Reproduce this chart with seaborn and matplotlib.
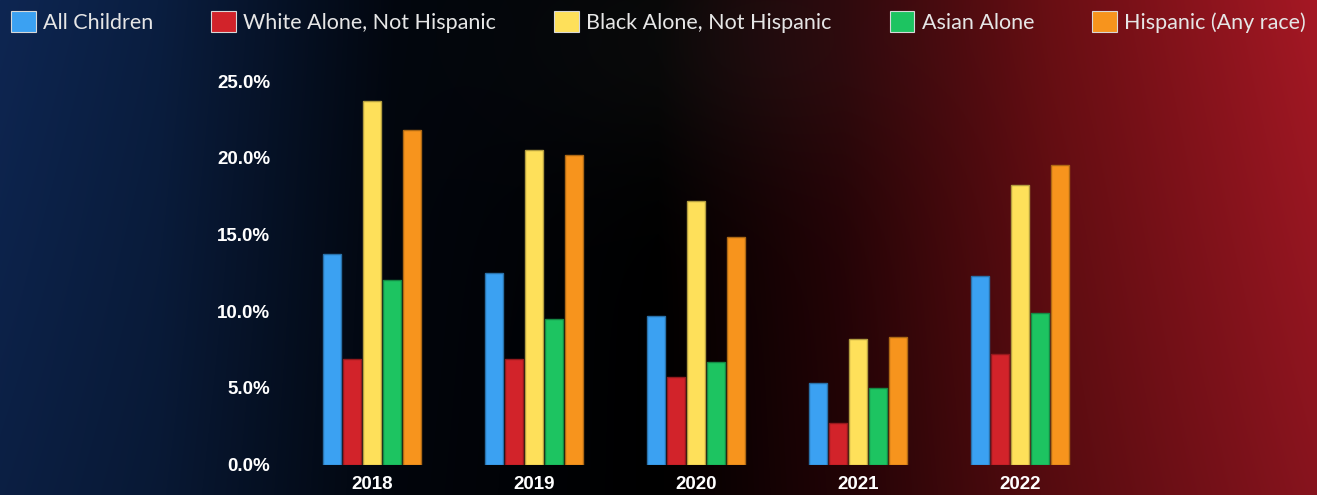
import numpy as np
import pandas as pd
import matplotlib
matplotlib.use("Agg")
import matplotlib.pyplot as plt
import matplotlib.colors as mcolors
import seaborn as sns

# ---- data ----
years = ["2018", "2019", "2020", "2021", "2022"]
groups = ["All Children", "White Alone, Not Hispanic", "Black Alone, Not Hispanic",
          "Asian Alone", "Hispanic (Any race)"]
all_children = [13.7, 12.5, 9.7, 5.3, 12.3]
white_nh = [6.9, 6.9, 5.7, 2.7, 7.2]
black_nh = [23.7, 20.5, 17.2, 8.2, 18.2]
asian = [12.0, 9.5, 6.7, 5.0, 9.9]
hispanic = [21.8, 20.2, 14.8, 8.3, 19.5]
yticks = [0, 5, 10, 15, 20, 25]

colors = ["#3ba1f2", "#d2232a", "#fee05a", "#1dc461", "#f7941d"]

series = [all_children, white_nh, black_nh, asian, hispanic]
rows = []
for g, vals in zip(groups, series):
    for y, v in zip(years, vals):
        rows.append({"Year": y, "Group": g, "Rate": v})
df = pd.DataFrame(rows)

# ---- figure ----
W, H = 1317, 495
fig = plt.figure(figsize=(W / 100, H / 100), dpi=100)

# background gradient
xs = np.linspace(0, 1, W)
ys = np.linspace(0, 1, H)
stops = [0.0, 0.12, 0.3, 0.5, 0.64, 0.8, 1.0]
cols = np.array([(14, 38, 82), (10, 30, 64), (2, 6, 14), (0, 0, 0),
                 (40, 4, 7), (105, 14, 19), (165, 24, 36)], float)
row = np.stack([np.interp(xs, stops, cols[:, c]) for c in range(3)], axis=-1)
vert = 1.0 - 0.18 * ys[:, None, None]
img = row[None, :, :] * vert
# faint gray shape at top centre
X, Y = np.meshgrid(np.arange(W), np.arange(H))
blob = np.exp(-(((X - 720) / 200.0) ** 2 + ((Y - 40) / 130.0) ** 2))
img = img + 10 * blob[..., None]
img = np.clip(img, 0, 255) / 255.0
bg = fig.add_axes([0, 0, 1, 1])
bg.imshow(img, aspect="auto", interpolation="bilinear")
bg.axis("off")

sns.set_style("ticks")
plt.rcParams["font.family"] = ["Liberation Sans", "DejaVu Sans"]

ax = fig.add_axes([291 / W, 30.5 / H, 810 / W, 383.5 / H])
ax.set_facecolor("none")
sns.barplot(data=df, x="Year", y="Rate", hue="Group", palette=colors,
            width=0.62, gap=0.1, ax=ax, linewidth=1.0, saturation=1)

for p in ax.patches:
    fc = np.array(mcolors.to_rgb(p.get_facecolor()))
    p.set_edgecolor(tuple(fc * 0.7))

ax.set_xlim(-0.5, 4.5)
ax.set_ylim(0, 25)
ax.set_yticks(yticks)
ax.set_yticklabels([f"{v:.1f}%" for v in yticks])
for s in ax.spines.values():
    s.set_visible(False)
ax.tick_params(axis="both", length=0, colors="white")
ax.tick_params(axis="y", pad=15)
ax.tick_params(axis="x", pad=8)
for lab in ax.get_yticklabels() + ax.get_xticklabels():
    lab.set_fontweight("bold")
    lab.set_fontsize(13.5)
    lab.set_color("white")
ax.set_xlabel("")
ax.set_ylabel("")

handles, labels = ax.get_legend_handles_labels()
ax.get_legend().remove()
leg = fig.legend(handles, labels, loc="upper left", ncol=5,
                 bbox_to_anchor=(0, 1.0, 1317 / W, 0.0), mode="expand",
                 frameon=False, handlelength=1.15, handleheight=1.15,
                 handletextpad=0.35, borderaxespad=0.1,
                 prop={"family": "Lato", "size": 15.5})
for h in leg.legend_handles:
    h.set_edgecolor("#d8d8d8")
    h.set_linewidth(0.8)
for t in leg.get_texts():
    t.set_color("#e6e6e6")

fig.savefig("out.png", dpi=100)
